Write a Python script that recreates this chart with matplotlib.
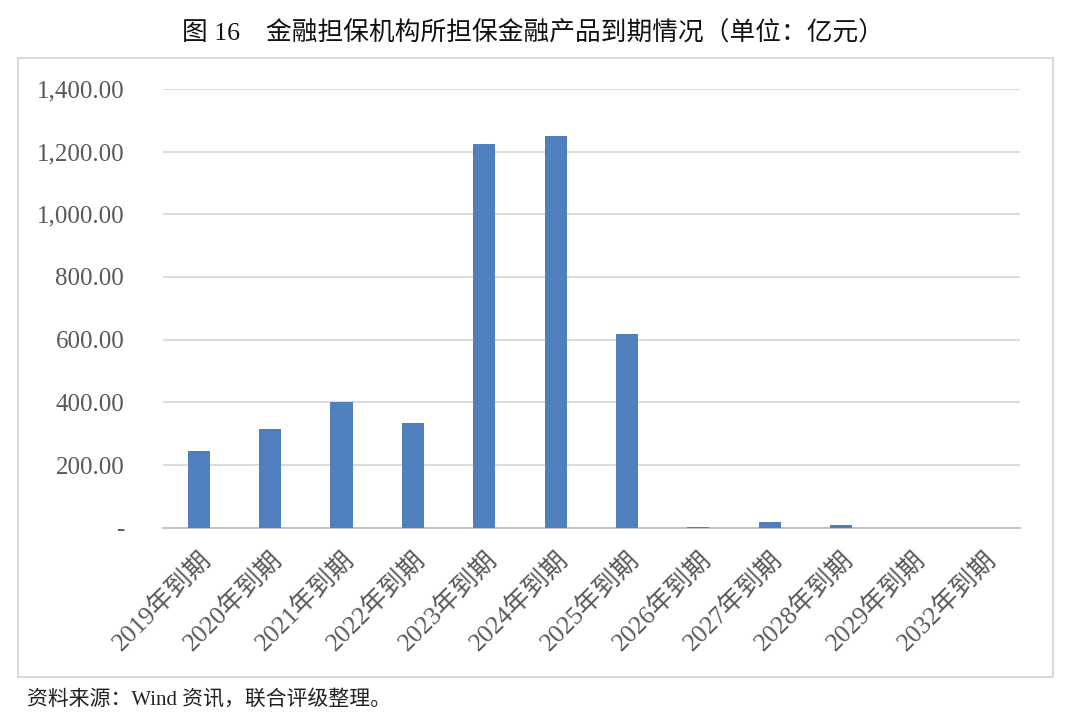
import matplotlib
matplotlib.use("Agg")
import matplotlib.pyplot as plt
import matplotlib.patches as patches
from matplotlib.ticker import FuncFormatter
import numpy as np

# dados (unidade: 亿元)
categorias = ["2019年到期", "2020年到期", "2021年到期", "2022年到期", "2023年到期", "2024年到期",
              "2025年到期", "2026年到期", "2027年到期", "2028年到期", "2029年到期", "2032年到期"]
valores = [246, 316, 402, 333, 1225, 1248, 619, 3, 19, 8, 0.5, 0.5]
yticks = [0, 200, 400, 600, 800, 1000, 1200, 1400]

titulo = "图 16    金融担保机构所担保金融产品到期情况（单位：亿元）"
fonte = "资料来源：Wind 资讯，联合评级整理。"

familia = ["Liberation Serif", "Noto Sans CJK SC", "DejaVu Sans"]
plt.rcParams["font.family"] = familia
cinza_texto = "#595959"

fig = plt.figure(figsize=(10.8, 7.22), dpi=100)
ax = fig.add_axes([0.151, 0.269, 0.793, 0.608])

x = np.arange(len(categorias))
ax.bar(x, valores, width=0.31, color="#4f7fbf", zorder=3)

ax.set_xlim(-0.5, len(categorias) - 0.5)
ax.set_ylim(0, 1400)
ax.set_yticks(yticks)
ax.yaxis.set_major_formatter(FuncFormatter(lambda v, p: "-" if v == 0 else f"{v:,.2f}"))
ax.grid(axis="y", color="#d9d9d9", linewidth=1.3, zorder=0)

ax.set_xticks(x)
ax.set_xticklabels(categorias, rotation=45, ha="right", rotation_mode="anchor",
                   fontsize=18.5, color=cinza_texto)
ax.tick_params(axis="x", length=0, pad=14)
ax.tick_params(axis="y", length=0, pad=28, labelsize=18, labelcolor=cinza_texto)

for lado in ["top", "right", "left"]:
    ax.spines[lado].set_visible(False)
ax.spines["bottom"].set_color("#bfbfbf")
ax.spines["bottom"].set_linewidth(1.3)

# moldura cinza em volta do grafico
caixa = patches.Rectangle((18 / 1080, 1 - 677 / 722), (1053 - 18) / 1080, (677 - 58) / 722,
                          transform=fig.transFigure, fill=False, edgecolor="#d9d9d9", linewidth=1.5)
fig.patches.append(caixa)

fig.text(533 / 1080, 1 - 33 / 722, titulo, ha="center", va="center", fontsize=18.5,
         color="#111111")
fig.text(27 / 1080, 1 - 700 / 722, fonte, ha="left", va="center", fontsize=15, color="#222222")

fig.savefig("out.png", dpi=100)
